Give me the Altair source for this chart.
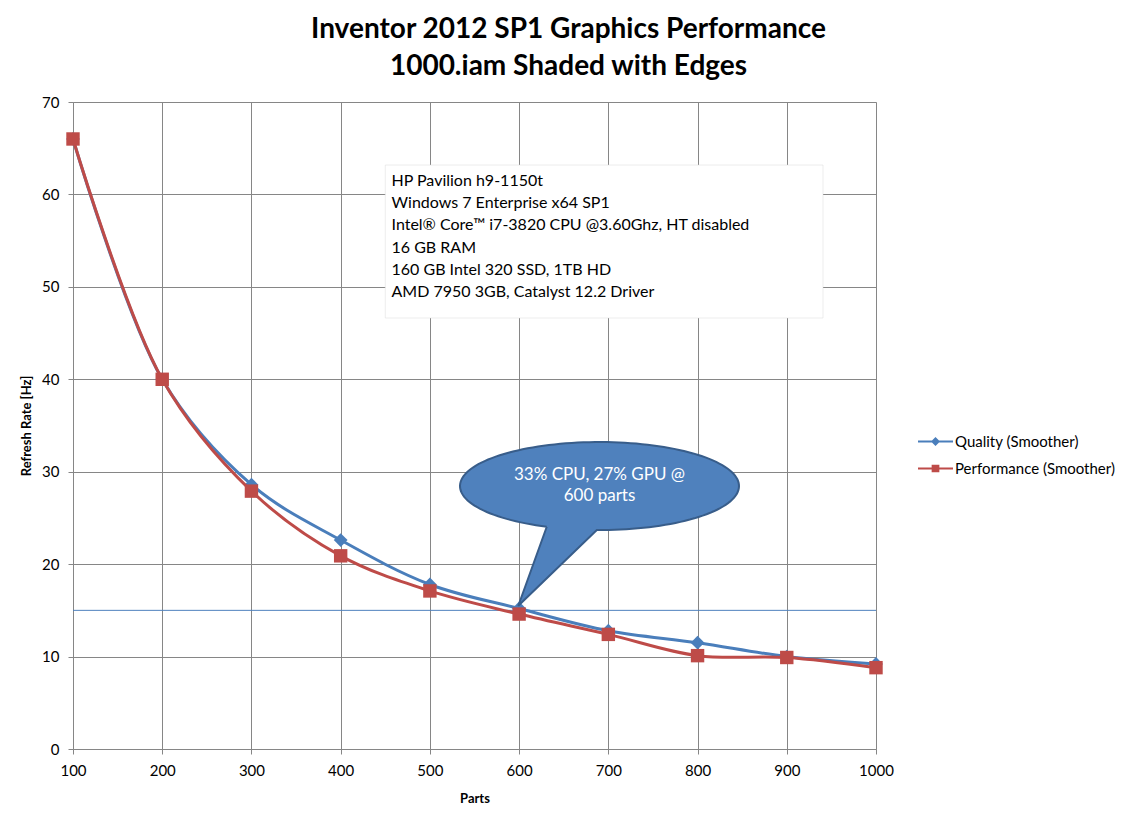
import altair as alt
import numpy as np
import pandas as pd

parts = [100, 200, 300, 400, 500, 600, 700, 800, 900, 1000]
quality = [66.0, 40.0, 28.6, 22.6, 17.8, 15.2, 12.8, 11.5, 10.0, 9.2]
performance = [66.0, 40.0, 27.9, 20.9, 17.1, 14.6, 12.4, 10.1, 9.9, 8.8]
series = ["Quality (Smoother)", "Performance (Smoother)"]
colors = ["#4a7ebb", "#be4b48"]

title_lines = ["Inventor 2012 SP1 Graphics Performance", "1000.iam Shaded with Edges"]
box_lines = [
    "HP Pavilion h9-1150t",
    "Windows 7 Enterprise  x64 SP1",
    "Intel\u00ae Core\u2122 i7-3820 CPU @3.60Ghz,  HT disabled",
    "16 GB RAM",
    "160 GB Intel 320 SSD, 1TB HD",
    "AMD 7950 3GB, Catalyst 12.2 Driver",
]
callout_lines = ["33% CPU, 27% GPU  @", "600 parts"]
ref_level = [15]

FONT = "Lato"

df = pd.DataFrame(
    [{"Parts": p, "Rate": q, "Series": series[0]} for p, q in zip(parts, quality)]
    + [{"Parts": p, "Rate": v, "Series": series[1]} for p, v in zip(parts, performance)]
)

x_axis = alt.Axis(values=parts, format="d", title="Parts", grid=True, gridColor="#868686", domainColor="#868686",
                  tickColor="#868686", tickSize=5, labelFont=FONT, labelFontSize=15, labelColor="#000000",
                  labelPadding=9, titleFont=FONT, titleFontSize=13, titleFontWeight="bold",
                  titleColor="#000000", titlePadding=14, labelFlush=False)
y_axis = alt.Axis(values=list(range(0, 71, 10)), title="Refresh Rate [Hz]", grid=True, gridColor="#868686",
                  domainColor="#868686", tickColor="#868686", tickSize=5, labelFont=FONT, labelFontSize=15,
                  labelColor="#000000", labelPadding=9, titleFont=FONT, titleFontSize=13,
                  titleFontWeight="bold", titleColor="#000000", titlePadding=8)

X = alt.X("Parts:Q", scale=alt.Scale(domain=[100, 1000], nice=False, zero=False), axis=x_axis)
Y = alt.Y("Rate:Q", scale=alt.Scale(domain=[0, 70], nice=False), axis=y_axis)

base = alt.Chart(df)

q_line = base.transform_filter(alt.datum.Series == series[0]).mark_line(
    interpolate="catmull-rom", strokeWidth=3, color=colors[0]).encode(x=X, y=Y)
q_pts = base.transform_filter(alt.datum.Series == series[0]).mark_point(
    shape="diamond", filled=True, size=190, color=colors[0], opacity=1).encode(x=X, y=Y)
p_line = base.transform_filter(alt.datum.Series == series[1]).mark_line(
    interpolate="catmull-rom", strokeWidth=3, color=colors[1]).encode(x=X, y=Y)
p_pts = base.transform_filter(alt.datum.Series == series[1]).mark_point(
    shape="square", filled=True, size=180, color=colors[1], opacity=1).encode(x=X, y=Y)

# legend-only layer (line + marker symbols)
leg_q = "M-1,-0.06H-0.2L0,-0.26L0.2,-0.06H1V0.06H0.2L0,0.26L-0.2,0.06H-1Z"
leg_p = "M-1,-0.06H-0.22V-0.22H0.22V-0.06H1V0.06H0.22V0.22H-0.22V0.06H-1Z"
leg_props = dict(orient="none", legendX=845, legendY=322, title=None, labelFont=FONT, labelFontSize=15,
                 labelColor="#000000", symbolSize=1225, symbolOpacity=1, symbolStrokeWidth=0,
                 labelOffset=2, rowPadding=1)
legend_layer = base.mark_point(filled=True, opacity=0).encode(
    x=X, y=Y,
    color=alt.Color("Series:N", scale=alt.Scale(domain=series, range=colors), legend=alt.Legend(**leg_props)),
    shape=alt.Shape("Series:N", scale=alt.Scale(domain=series, range=[leg_q, leg_p]),
                    legend=alt.Legend(**leg_props)),
)

ref_rule = alt.Chart(pd.DataFrame({"Rate": ref_level})).mark_rule(color="#4f81bd", strokeWidth=1).encode(y=Y)

# spec box
box_df = pd.DataFrame({"x1": [450.0], "x2": [940.6], "y1": [63.18], "y2": [46.63]})
BX = alt.X("x1:Q", scale=alt.Scale(domain=[100, 1000], nice=False, zero=False), axis=x_axis)
BY = alt.Y("y1:Q", scale=alt.Scale(domain=[0, 70], nice=False), axis=y_axis)
shadows = [
    alt.Chart(box_df).mark_rect(color="#000000", opacity=op, xOffset=o, yOffset=o, cornerRadius=2).encode(
        x=BX, x2="x2:Q", y=BY, y2="y2:Q")
    for o, op in [(6, 0.05), (5, 0.07), (4, 0.09), (3, 0.1)]
]
box = alt.Chart(box_df).mark_rect(color="#ffffff", stroke="#d9d9d9", strokeWidth=0.5).encode(
    x=BX, x2="x2:Q", y=BY, y2="y2:Q")
box_text_df = pd.DataFrame({"Parts": [457.0], "Rate": [60.94], "t": ["\n".join(box_lines)]})
box_text = alt.Chart(box_text_df).mark_text(
    align="left", baseline="alphabetic", lineBreak="\n", lineHeight=22.3, font=FONT, fontSize=16,
    color="#000000").encode(x=X, y=Y, text="t:N")

# callout bubble (ellipse with a tail), as one custom symbol
ry = 0.3154
t0 = np.deg2rad(91.1)
t1 = np.deg2rad(112.2 - 360)
ts = np.linspace(t0, t1, 140)
pts = ["%.4f,%.4f" % (np.cos(t), ry * np.sin(t)) for t in ts]
bubble_path = "M-0.378,0.292L-0.582,0.858L" + "L".join(pts) + "Z"
bubble_df = pd.DataFrame({"Parts": [690.1], "Rate": [28.45]})
bubble = alt.Chart(bubble_df).mark_point(
    shape=bubble_path, size=279 * 279, filled=True, fill="#4f81bd", stroke="#385d8a", strokeWidth=2,
    opacity=1, fillOpacity=1).encode(x=X, y=Y)
bubble_text_df = pd.DataFrame({"Parts": [690.1], "Rate": [29.1], "t": ["\n".join(callout_lines)]})
bubble_text = alt.Chart(bubble_text_df).mark_text(
    align="center", baseline="alphabetic", lineBreak="\n", lineHeight=21, font=FONT, fontSize=17,
    color="#ffffff").encode(x=X, y=Y, text="t:N")

chart = alt.layer(
    ref_rule, *shadows, box, box_text, q_line, q_pts, p_line, p_pts, legend_layer, bubble, bubble_text
).properties(
    width=803, height=647,
    padding={"left": 65, "top": 94, "right": 251, "bottom": 69},
    autosize=alt.AutoSizeParams(type="none"),
    title=alt.TitleParams(text=title_lines, font=FONT, fontSize=28, fontWeight="bold", color="#000000",
                          anchor="middle", dx=94, offset=14, lineHeight=37),
).configure_view(stroke=None).configure(background="#ffffff")

chart.save("out.html", embed_options={"renderer": "svg", "actions": False})
